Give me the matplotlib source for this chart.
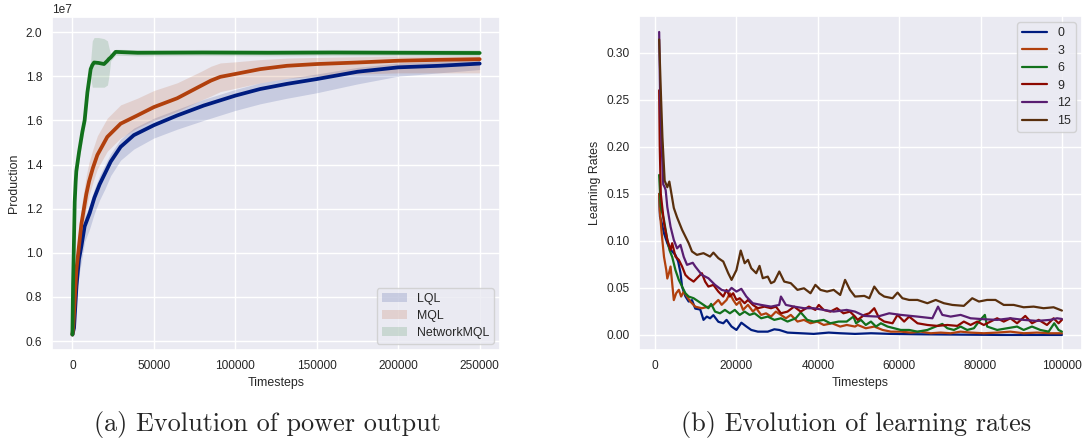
import numpy as np
import matplotlib.pyplot as plt
import seaborn as sns

sns.set_theme(style='darkgrid')
plt.rcParams['font.family'] = ['Liberation Sans', 'DejaVu Sans']
plt.rcParams['xtick.major.size'] = 3.5
plt.rcParams['ytick.major.size'] = 3.5

pal = sns.color_palette('dark')

# ---- (a) production, values in units of 1e7 ----
lql_x = [0, 1000, 2500, 4000, 5500, 7500, 10600, 13500, 16700, 20000, 23500, 29600, 37700,
         50000, 64300, 80600, 100000, 115300, 131600, 150000, 175000, 200000, 225000, 250000]
lql_mean = [0.63, 0.66, 0.85, 0.97, 1.03, 1.12, 1.18, 1.25, 1.31, 1.36, 1.413, 1.48, 1.533,
            1.578, 1.622, 1.667, 1.712, 1.742, 1.765, 1.787, 1.82, 1.84, 1.847, 1.857]
lql_low = [0.62, 0.63, 0.79, 0.90, 0.96, 1.05, 1.11, 1.18, 1.24, 1.29, 1.35, 1.42, 1.47,
           1.52, 1.56, 1.60, 1.645, 1.675, 1.70, 1.725, 1.765, 1.80, 1.815, 1.83]
lql_high = [0.64, 0.69, 0.89, 1.01, 1.07, 1.16, 1.22, 1.29, 1.35, 1.40, 1.45, 1.515, 1.565,
            1.61, 1.65, 1.695, 1.74, 1.77, 1.79, 1.81, 1.84, 1.86, 1.867, 1.875]

mql_x = [0, 500, 2400, 5500, 8500, 10200, 12600, 15300, 21400, 29600, 39800, 50000, 64300,
         78500, 85000, 90800, 100000, 115300, 131600, 150000, 175000, 200000, 225000, 250000]
mql_mean = [0.63, 0.66, 0.92, 1.13, 1.265, 1.323, 1.385, 1.443, 1.525, 1.585, 1.622, 1.66, 1.70,
            1.755, 1.78, 1.797, 1.81, 1.832, 1.847, 1.855, 1.862, 1.87, 1.874, 1.877]
mql_low = [0.62, 0.63, 0.86, 1.07, 1.20, 1.26, 1.32, 1.38, 1.46, 1.52, 1.565, 1.60, 1.64,
           1.69, 1.71, 1.73, 1.745, 1.77, 1.79, 1.80, 1.81, 1.815, 1.815, 1.815]
mql_high = [0.64, 0.70, 0.99, 1.21, 1.35, 1.41, 1.47, 1.53, 1.61, 1.67, 1.70, 1.735, 1.77,
            1.82, 1.845, 1.86, 1.865, 1.875, 1.882, 1.885, 1.888, 1.89, 1.89, 1.89]

nmql_x = [0, 400, 800, 1400, 2000, 2400, 4100, 6100, 7500, 9200, 11200, 12200, 13300, 16000,
          19400, 21500, 22400, 23500, 26500, 40000, 80000, 120000, 160000, 200000, 250000]
nmql_mean = [0.63, 0.86, 1.0, 1.23, 1.323, 1.37, 1.458, 1.548, 1.60, 1.727, 1.832, 1.85, 1.862,
             1.86, 1.855, 1.87, 1.878, 1.885, 1.91, 1.906, 1.907, 1.906, 1.907, 1.906, 1.905]
nmql_low = [0.62, 0.84, 0.97, 1.19, 1.28, 1.33, 1.42, 1.51, 1.57, 1.70, 1.79, 1.75, 1.75,
            1.75, 1.75, 1.76, 1.80, 1.87, 1.895, 1.892, 1.893, 1.892, 1.893, 1.892, 1.891]
nmql_high = [0.64, 0.88, 1.03, 1.27, 1.37, 1.41, 1.50, 1.59, 1.64, 1.76, 1.87, 1.96, 1.975,
             1.975, 1.97, 1.96, 1.93, 1.90, 1.922, 1.92, 1.921, 1.92, 1.921, 1.92, 1.919]

methods = ['LQL', 'MQL', 'NetworkMQL']

# ---- (b) learning rates ----
lr_labels = ['0', '3', '6', '9', '12', '15']

lr0_x = [1000, 1200, 1620, 2190, 3000, 3560, 4200, 5000, 5670, 6240, 6640, 7450, 8260, 9070,
         9880, 11100, 11900, 12710, 13520, 14330, 15550, 16760, 17570, 18780, 20000, 21210,
         22430, 23640, 25260, 27700, 29300, 30530, 32550, 35800, 39000, 42670, 45500, 49150,
         53060, 57960, 64500, 72650, 84900, 100000]
lr0_y = [0.150, 0.126, 0.119, 0.108, 0.0975, 0.092, 0.0887, 0.085, 0.078, 0.066, 0.051, 0.041,
         0.0355, 0.037, 0.028, 0.027, 0.016, 0.0195, 0.0177, 0.021, 0.014, 0.0124, 0.016, 0.009,
         0.0053, 0.013, 0.009, 0.0053, 0.0035, 0.0035, 0.006, 0.0053, 0.0025, 0.0018, 0.0011,
         0.0025, 0.0018, 0.0011, 0.0018, 0.0011, 0.0007, 0.0004, 0.0, 0.0]

lr3_x = [1000, 1130, 1620, 2190, 2750, 3000, 3400, 3800, 4200, 4600, 5180, 5830, 6400, 7040,
         7850, 8660, 9880, 11500, 13100, 14330, 15550, 16360, 17570, 18380, 19190, 20000,
         20800, 21620, 22830, 24050, 24860, 26070, 27290, 28500, 29700, 30930, 32150, 33360,
         35000, 36600, 38200, 39840, 41450, 43480, 45500, 47120, 49150, 49800, 51800, 53880,
         55920, 57960, 60400, 62860, 65300, 67760, 70200, 72650, 75100, 77550, 80800, 84080,
         87350, 90600, 93880, 97140, 100000]
lr3_y = [0.150, 0.133, 0.108, 0.083, 0.069, 0.060, 0.0656, 0.0727, 0.055, 0.037, 0.0443, 0.048,
         0.0408, 0.046, 0.0408, 0.0355, 0.030, 0.0284, 0.030, 0.032, 0.0372, 0.032, 0.0372, 0.0443,
         0.0372, 0.032, 0.0355, 0.0266, 0.032, 0.0248, 0.0284, 0.0213, 0.023, 0.0195, 0.0248,
         0.0213, 0.0177, 0.0213, 0.0142, 0.016, 0.0124, 0.0142, 0.0106, 0.0124, 0.0089, 0.0106,
         0.0089, 0.0106, 0.0071, 0.0089, 0.0053, 0.0035, 0.0035, 0.0025, 0.0035, 0.0018, 0.0025,
         0.0018, 0.0035, 0.0025, 0.0018, 0.0025, 0.0035, 0.0018, 0.0025, 0.0018, 0.0018]

lr6_x = [1000, 1380, 2190, 3000, 3560, 4200, 5000, 5830, 6640, 7450, 8260, 9470, 10690, 11900,
         13100, 13770, 14740, 15950, 17160, 18380, 19600, 20800, 22020, 23240, 24450, 26070,
         27700, 29300, 30930, 32550, 34570, 35800, 37400, 39000, 41450, 43070, 45100, 47100,
         48750, 49400, 50600, 51800, 53060, 54290, 55500, 57140, 58780, 60400, 62450, 64500,
         66940, 68980, 70600, 71840, 73470, 75100, 76700, 78370, 79600, 81060, 81630, 84080,
         86530, 88980, 90600, 92650, 94700, 96740, 98120, 99180, 100000]
lr6_y = [0.170, 0.1365, 0.122, 0.101, 0.090, 0.083, 0.069, 0.0585, 0.0514, 0.0443, 0.0408, 0.039,
         0.0355, 0.032, 0.0284, 0.033, 0.0248, 0.023, 0.0266, 0.023, 0.0266, 0.0213, 0.0248,
         0.0213, 0.023, 0.0177, 0.0195, 0.016, 0.0177, 0.0142, 0.0177, 0.024, 0.016, 0.0142,
         0.016, 0.0124, 0.0142, 0.0142, 0.0195, 0.0124, 0.016, 0.0106, 0.0142, 0.0089, 0.0124,
         0.0089, 0.0071, 0.0053, 0.0053, 0.0035, 0.0053, 0.0089, 0.0117, 0.0071, 0.0053, 0.0089,
         0.0053, 0.0071, 0.0142, 0.0213, 0.0089, 0.0053, 0.0071, 0.0089, 0.0053, 0.0089, 0.0053,
         0.0035, 0.0124, 0.0053, 0.0035]

lr9_x = [1000, 1150, 1400, 2190, 3000, 3800, 4200, 5000, 5830, 6640, 7450, 8260, 9470, 10280,
         11500, 12300, 13100, 14330, 15550, 16760, 17570, 18380, 19200, 20000, 20800, 22020,
         22830, 24050, 25260, 26880, 28500, 29700, 30930, 32550, 34170, 35790, 37800, 39400,
         40240, 41450, 43070, 44700, 46300, 47900, 49150, 49800, 51430, 52650, 53880, 55100,
         56330, 58370, 59590, 61220, 62450, 64500, 66940, 69390, 71840, 74290, 75900, 77550,
         79200, 80800, 82450, 84080, 85710, 87350, 88980, 91000, 92650, 94290, 96330, 97960,
         99180, 100000]
lr9_y = [0.260, 0.200, 0.150, 0.1188, 0.101, 0.0904, 0.0975, 0.0833, 0.0798, 0.0727, 0.0638,
         0.0603, 0.0567, 0.0603, 0.0656, 0.0567, 0.0514, 0.0532, 0.0461, 0.0408, 0.0479, 0.0408,
         0.0443, 0.0372, 0.039, 0.0337, 0.0372, 0.0319, 0.0284, 0.0301, 0.0284, 0.0301, 0.023,
         0.0248, 0.0301, 0.0248, 0.0301, 0.0266, 0.0319, 0.0266, 0.0248, 0.0284, 0.023, 0.0248,
         0.0195, 0.016, 0.0213, 0.023, 0.0284, 0.0177, 0.0142, 0.0124, 0.0213, 0.0142, 0.0195,
         0.0124, 0.0106, 0.0096, 0.0106, 0.0096, 0.0142, 0.0106, 0.0142, 0.0106, 0.0142, 0.0177,
         0.0142, 0.0177, 0.0124, 0.0202, 0.0124, 0.016, 0.0106, 0.0177, 0.0124, 0.016]

lr12_x = [1000, 1200, 1540, 2000, 2350, 2600, 3000, 3800, 4600, 5400, 6240, 7040, 7850, 9260,
          9880, 11500, 13100, 14740, 16360, 17980, 18800, 20000, 21200, 22430, 24000, 26070,
          28500, 30500, 30930, 32150, 34170, 36600, 39000, 41450, 43900, 47100, 49150, 51430,
          54700, 57550, 60400, 64500, 68160, 69550, 70600, 72650, 75100, 77550, 80800, 84080,
          87350, 90600, 93880, 97140, 98800, 100000]
lr12_y = [0.322, 0.263, 0.210, 0.160, 0.157, 0.154, 0.136, 0.115, 0.101, 0.092, 0.0957, 0.083,
          0.0745, 0.0767, 0.0727, 0.0638, 0.0603, 0.0532, 0.0479, 0.0461, 0.0500, 0.0461, 0.0490,
          0.0408, 0.0337, 0.0319, 0.0301, 0.0319, 0.0408, 0.0319, 0.0301, 0.0284, 0.0284, 0.0266,
          0.0248, 0.0266, 0.0248, 0.0202, 0.0195, 0.023, 0.0213, 0.0195, 0.0177, 0.0301, 0.0213,
          0.0195, 0.0213, 0.0177, 0.0167, 0.016, 0.0177, 0.016, 0.0149, 0.016, 0.0177, 0.017]

lr15_x = [1000, 1400, 1800, 2350, 3000, 3500, 3900, 4600, 5400, 6640, 8260, 9070, 10280, 11900,
          13500, 14330, 15550, 16760, 17980, 18800, 20000, 21050, 22020, 22830, 23640, 24860,
          25670, 26470, 27700, 28500, 29300, 30530, 31740, 33360, 35000, 36600, 38200, 39400,
          40650, 42270, 43900, 45500, 46700, 47900, 49150, 51430, 52650, 53880, 55100, 56330,
          58370, 59600, 60800, 62450, 64500, 66940, 68980, 71000, 73060, 75900, 77960, 79600,
          81600, 83670, 85700, 88160, 90600, 93060, 95500, 97960, 100000]
lr15_y = [0.314, 0.260, 0.210, 0.164, 0.157, 0.163, 0.153, 0.135, 0.125, 0.1117, 0.0975, 0.0887,
          0.0851, 0.0869, 0.0833, 0.0875, 0.0816, 0.078, 0.0656, 0.0585, 0.069, 0.0897, 0.0762,
          0.0798, 0.0709, 0.0656, 0.0734, 0.0603, 0.062, 0.055, 0.0567, 0.0674, 0.0567, 0.055,
          0.0479, 0.0496, 0.0443, 0.0532, 0.0479, 0.0461, 0.0479, 0.0425, 0.0585, 0.0479, 0.0408,
          0.0415, 0.039, 0.0514, 0.0443, 0.0408, 0.039, 0.045, 0.039, 0.0372, 0.0372, 0.0337,
          0.0372, 0.0337, 0.0319, 0.0309, 0.039, 0.0355, 0.0372, 0.0372, 0.0319, 0.0319, 0.0294,
          0.0301, 0.0284, 0.0294, 0.0259]

fig = plt.figure(figsize=(10.89, 4.45), dpi=100)

# left panel
ax1 = fig.add_axes([0.0478, 0.2135, 0.4114, 0.7483])
left_series = [(lql_x, lql_mean, lql_low, lql_high),
               (mql_x, mql_mean, mql_low, mql_high),
               (nmql_x, nmql_mean, nmql_low, nmql_high)]
for i, (x, m, lo, hi) in enumerate(left_series):
    ax1.fill_between(x, np.array(lo) * 1e7, np.array(hi) * 1e7, color=pal[i], alpha=0.15,
                     linewidth=0, label=methods[i])
for i, (x, m, lo, hi) in enumerate(left_series):
    ax1.plot(x, np.array(m) * 1e7, color=pal[i], lw=2.7)
ax1.set_xlim(-12500, 262500)
ax1.set_ylim(0.56e7, 2.068e7)
ax1.set_xlabel('Timesteps', fontsize=8.9)
ax1.set_ylabel('Production', fontsize=8.9)
ax1.tick_params(labelsize=8.6)
ax1.yaxis.get_offset_text().set_fontsize(8.6)
ax1.legend(loc='lower right', fontsize=8.9, labelspacing=0.4)

# right panel
ax2 = fig.add_axes([0.5868, 0.2135, 0.4068, 0.7506])
lr_series = [(lr0_x, lr0_y), (lr3_x, lr3_y), (lr6_x, lr6_y),
             (lr9_x, lr9_y), (lr12_x, lr12_y), (lr15_x, lr15_y)]
for i, (x, y) in enumerate(lr_series):
    ax2.plot(x, y, color=pal[i], lw=1.6, label=lr_labels[i])
ax2.set_ylim(-0.016, 0.339)
ax2.set_xlabel('Timesteps', fontsize=8.9)
ax2.set_ylabel('Learning Rates', fontsize=8.9)
ax2.tick_params(labelsize=8.6)
ax2.legend(loc='upper right', fontsize=8.9, labelspacing=0.45)

fig.text(0.2457, 0.047, '(a) Evolution of power output', family='cmr10', fontsize=18.9,
         ha='center', va='center')
fig.text(0.786, 0.047, '(b) Evolution of learning rates', family='cmr10', fontsize=18.9,
         ha='center', va='center')

fig.savefig('out.png', dpi=100)
